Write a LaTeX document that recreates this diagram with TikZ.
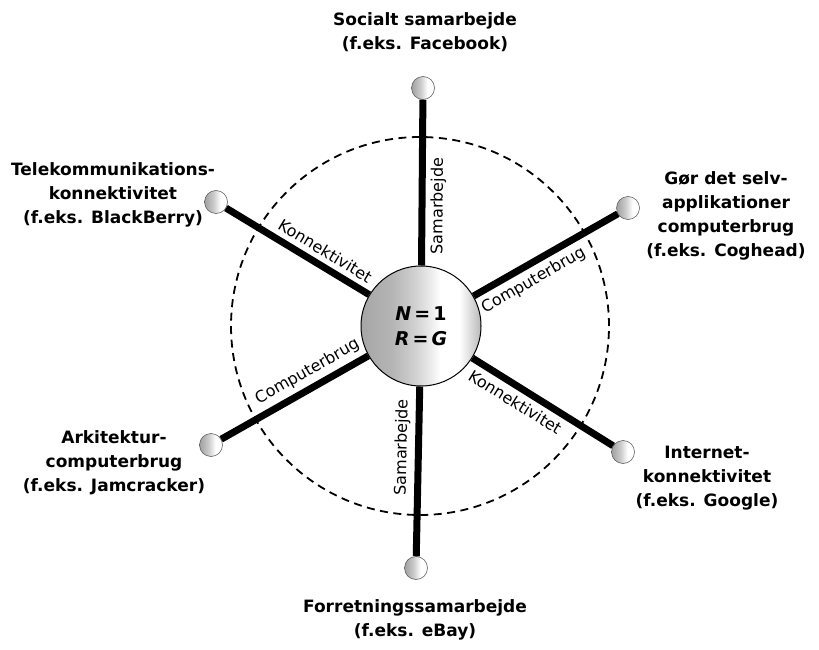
\documentclass[tikz,border=0pt]{standalone}
\usepackage{fontspec}
\setmainfont{DejaVu Sans}
\pgfdeclarehorizontalshading{hubshade}{100bp}{color(0bp)=(gray!70); color(25bp)=(gray!70); color(38bp)=(gray!58); color(48bp)=(gray!35); color(55bp)=(gray!12); color(58bp)=(white); color(66bp)=(white); color(71bp)=(gray!30); color(75bp)=(gray!55); color(100bp)=(gray!55)}
\pgfdeclarehorizontalshading{knobshade}{100bp}{color(0bp)=(gray!75); color(25bp)=(gray!75); color(45bp)=(gray!40); color(60bp)=(white); color(75bp)=(white); color(100bp)=(white)}

\begin{document}
\begin{tikzpicture}[x=1pt,y=1pt,
  hub/.style={circle,draw,line width=1pt,minimum size=120pt,inner sep=0pt,shading=hubshade,
    align=center,font=\bfseries\fontsize{19}{25}\selectfont},
  knob/.style={circle,draw=black!70,line width=.5pt,minimum size=23pt,inner sep=0pt,shading=knobshade},
  spoke/.style={line width=7pt},
  lbl/.style={sloped,inner sep=5pt,font=\fontsize{16}{16}\selectfont},
  area/.style={align=center,font=\bfseries\fontsize{17}{24}\selectfont}]
  \useasboundingbox(0,0) rectangle(819,649);
  \draw[line width=1.8pt,dash pattern=on 8pt off 5.5pt](420,323) circle(189);
  \node[hub] (O) at(421,323){\textit{N}\,=\,1\\\textit{R}\,=\,\textit{G}};
  \node[knob] (t) at(423,561){};
  \node[knob] (ul) at(216,447){};
  \node[knob] (ur) at(628,441){};
  \node[knob] (ll) at(211,204){};
  \node[knob] (lr) at(623,197){};
  \node[knob] (b) at(416,81){};
  \draw[spoke](O)--(t) node[lbl,below,pos=.36] (t-l){Samarbejde};
  \draw[spoke](O)--(ur) node[lbl,below,pos=.36] (ur-l){Computerbrug};
  \draw[spoke](O)--(lr) node[lbl,below,pos=.36] (lr-l){Konnektivitet};
  \draw[spoke](b)--(O) node[lbl,above,pos=.64] (b-l){Samarbejde};
  \draw[spoke](ul)--(O) node[lbl,above,pos=.64] (ul-l){Konnektivitet};
  \draw[spoke](ll)--(O) node[lbl,above,pos=.64] (ll-l){Computerbrug};
  \node[area] (t-a) at(425,617){Socialt samarbejde\\(f.eks. Facebook)};
  \node[area] (ul-a) at(113,454){Telekommunikations-\\konnektivitet\\(f.eks. BlackBerry)};
  \node[area] (ur-a) at(726,433){Gør det selv-\\applikationer\\computerbrug\\(f.eks. Coghead)};
  \node[area] (ll-a) at(114,186){Arkitektur-\\computerbrug\\(f.eks. Jamcracker)};
  \node[area] (lr-a) at(707,171){Internet-\\konnektivitet\\(f.eks. Google)};
  \node[area] (b-a) at(415,29){Forretningssamarbejde\\(f.eks. eBay)};
\end{tikzpicture}
\end{document}
